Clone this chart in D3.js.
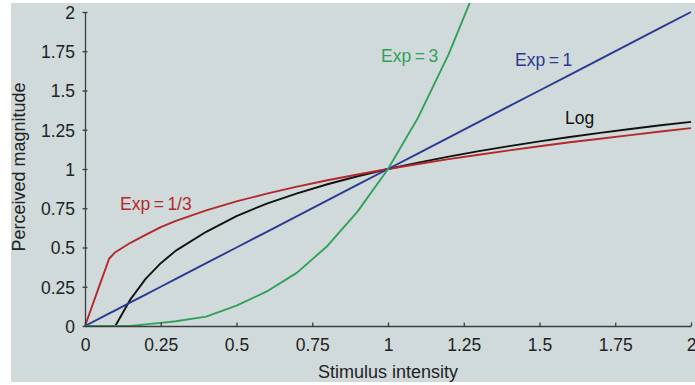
<!doctype html>
<html>
<head>
<meta charset="UTF-8">
<title>Stevens power law</title>
<script src="https://cdn.jsdelivr.net/npm/d3@7"></script>
<style>
    body { margin: 0; background: #fff; }
    #chart { font-family: "Liberation Sans", Arial, sans-serif; }
    .curve { fill: none; stroke-width: 1.9; stroke-linejoin: round; }
    .axis path, .axis line { stroke: #3c3c3c; stroke-width: 1.3; }
    .axis text { font-size: 17.5px; fill: #222; font-family: "Liberation Sans", Arial, sans-serif; }
</style>
</head>
<body>
<svg id="chart" width="695" height="385"></svg>
<script>
// stimulus intensity samples
var stimulus = [0, 0.05, 0.08, 0.1, 0.15, 0.2, 0.25, 0.3, 0.4, 0.5, 0.6, 0.7, 0.8, 0.9, 1,
    1.1, 1.2, 1.3, 1.4, 1.5, 1.6, 1.7, 1.8, 1.9, 2];

// perceived magnitude
var exp13 = [0, 0.27, 0.43, 0.47, 0.53, 0.58, 0.63, 0.67, 0.737, 0.794, 0.843, 0.888, 0.928, 0.965, 1,
    1.032, 1.063, 1.091, 1.119, 1.145, 1.17, 1.193, 1.216, 1.239, 1.26];
var exp1 = [0, 0.05, 0.08, 0.1, 0.15, 0.2, 0.25, 0.3, 0.4, 0.5, 0.6, 0.7, 0.8, 0.9, 1,
    1.1, 1.2, 1.3, 1.4, 1.5, 1.6, 1.7, 1.8, 1.9, 2];
var exp3 = [0, 0, 0, 0, 0, 0.01, 0.02, 0.03, 0.06, 0.13, 0.22, 0.34, 0.51, 0.73, 1,
    1.33, 1.73, 2.2, null, null, null, null, null, null, null];
var logMag = [null, null, null, 0, 0.17, 0.30, 0.40, 0.48, 0.60, 0.70, 0.78, 0.845, 0.903, 0.954, 1,
    1.041, 1.079, 1.114, 1.146, 1.176, 1.204, 1.23, 1.255, 1.279, 1.30];

var tickValues = [0, 0.25, 0.5, 0.75, 1, 1.25, 1.5, 1.75, 2];
var tickLabels = ["0", "0.25", "0.5", "0.75", "1", "1.25", "1.5", "1.75", "2"];

var series = [
    { name: "Log", values: logMag, color: "#111111", label: "Log", lx: 565, ly: 124 },
    { name: "Exp=1/3", values: exp13, color: "#b3282d", label: "Exp\u2009=\u20091/3", lx: 120, ly: 210 },
    { name: "Exp=1", values: exp1, color: "#2b3990", label: "Exp\u2009=\u20091", lx: 515, ly: 66 },
    { name: "Exp=3", values: exp3, color: "#33a05a", label: "Exp\u2009=\u20093", lx: 381, ly: 62 }
];

var svg = d3.select("#chart");

// grey panel
svg.append("rect")
    .attr("x", 11).attr("y", 3)
    .attr("width", 684).attr("height", 379)
    .attr("fill", "#d0dadb");

svg.append("clipPath").attr("id", "clip")
    .append("rect")
    .attr("x", 11).attr("y", 3)
    .attr("width", 684).attr("height", 379);

var x = d3.scaleLinear().domain([0, 2]).range([85, 691]);
var y = d3.scaleLinear().domain([0, 2]).range([326, 12]);

// curves
var line = d3.line()
    .defined(function(d) { return d[1] !== null; })
    .x(function(d) { return x(d[0]); })
    .y(function(d) { return y(d[1]); });

var g = svg.append("g").attr("clip-path", "url(#clip)");

series.forEach(function(s) {
    var pts = stimulus.map(function(v, i) { return [v, s.values[i]]; });
    g.append("path")
        .attr("class", "curve")
        .attr("d", line(pts))
        .attr("stroke", s.color);
});

// axes
var fmt = function(d) { return tickLabels[tickValues.indexOf(d)]; };

var xAxis = svg.append("g")
    .attr("class", "axis")
    .attr("transform", "translate(0,326)")
    .call(d3.axisBottom(x).tickValues(tickValues).tickFormat(fmt).tickSizeOuter(0).tickSizeInner(-3));
xAxis.selectAll(".tick line").attr("y1", 0).attr("y2", -3.5);
xAxis.selectAll(".tick text").attr("y", 25).attr("dy", 0);

var yAxis = svg.append("g")
    .attr("class", "axis")
    .attr("transform", "translate(85,0)")
    .call(d3.axisLeft(y).tickValues(tickValues).tickFormat(fmt).tickSizeOuter(0));
yAxis.selectAll(".tick line").attr("x1", -2.5).attr("x2", 2.5);
yAxis.selectAll(".tick text").attr("x", -10).attr("dy", "0.36em");

// axis titles
svg.append("text")
    .attr("x", 388).attr("y", 378)
    .attr("text-anchor", "middle")
    .attr("font-size", "18px")
    .attr("fill", "#222")
    .text("Stimulus intensity");

svg.append("text")
    .attr("transform", "translate(25,167) rotate(-90)")
    .attr("text-anchor", "middle")
    .attr("font-size", "18px")
    .attr("fill", "#222")
    .text("Perceived magnitude");

// curve labels
svg.selectAll(".lbl")
    .data(series)
    .enter()
    .append("text")
    .attr("class", "lbl")
    .attr("x", function(d) { return d.lx; })
    .attr("y", function(d) { return d.ly; })
    .attr("font-size", "17.5px")
    .attr("fill", function(d) { return d.color; })
    .text(function(d) { return d.label; });
</script>
</body>
</html>
